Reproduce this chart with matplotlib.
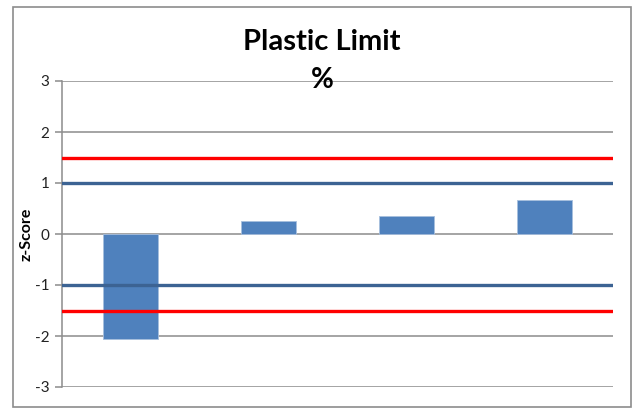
import matplotlib
matplotlib.use('Agg')
from matplotlib import pyplot as plt
from matplotlib.patches import Rectangle

# z-scores per lab
labs = ['1', '2', '3', '4']
z_scores = [-2.06, 0.25, 0.35, 0.66]
warn_limits = [-1.0, 1.0]
action_limits = [-1.5, 1.5]
y_ticks = [-3, -2, -1, 0, 1, 2, 3]

plt.rcParams['font.family'] = ['Lato', 'DejaVu Sans']
plt.rcParams['axes.unicode_minus'] = False

fig = plt.figure(figsize=(6.33, 4.08), dpi=100)
ax = fig.add_axes([62 / 633, 21 / 408, 551 / 633, 306 / 408])

# outer chart border
fig.patches.append(Rectangle((13 / 633, 1 / 408), 618 / 633, 400 / 408,
                             transform=fig.transFigure, fill=False,
                             edgecolor='#8c8c8c', lw=1.2))

x = range(len(labs))
ax.bar(x, z_scores, width=0.4, color='#4f81bd', edgecolor='#a7bfde',
       linewidth=0.6, zorder=3)

for v in warn_limits:
    ax.axhline(v, color='#3c6393', lw=2.4, zorder=4)
for v in action_limits:
    ax.axhline(v, color='#ff0000', lw=2.4, zorder=4)

ax.set_xlim(-0.5, len(labs) - 0.5)
ax.set_ylim(-3, 3)
ax.set_yticks(y_ticks)
ax.set_xticks([])
ax.yaxis.grid(True, color='#8c8c8c', lw=1.1, zorder=0)
ax.set_axisbelow(True)
for s in ['top', 'right', 'bottom']:
    ax.spines[s].set_visible(False)
ax.spines['left'].set_color('#8c8c8c')
ax.spines['left'].set_linewidth(1.1)
ax.tick_params(axis='y', direction='out', length=5, width=1.1,
               color='#8c8c8c', labelsize=11, labelcolor='#222222', pad=4)

ax.set_ylabel('z-Score', fontsize=11.5, fontweight='bold')
ax.yaxis.set_label_coords(-28 / 551, 0.5)

fig.text(322 / 633, 1 - 42 / 408, 'Plastic Limit', ha='center', va='center',
         fontsize=21, fontweight='bold')
fig.text(322 / 633, 1 - 80 / 408, '%', ha='center', va='center',
         fontsize=20, fontweight='bold')

fig.savefig('out.png', dpi=100)
